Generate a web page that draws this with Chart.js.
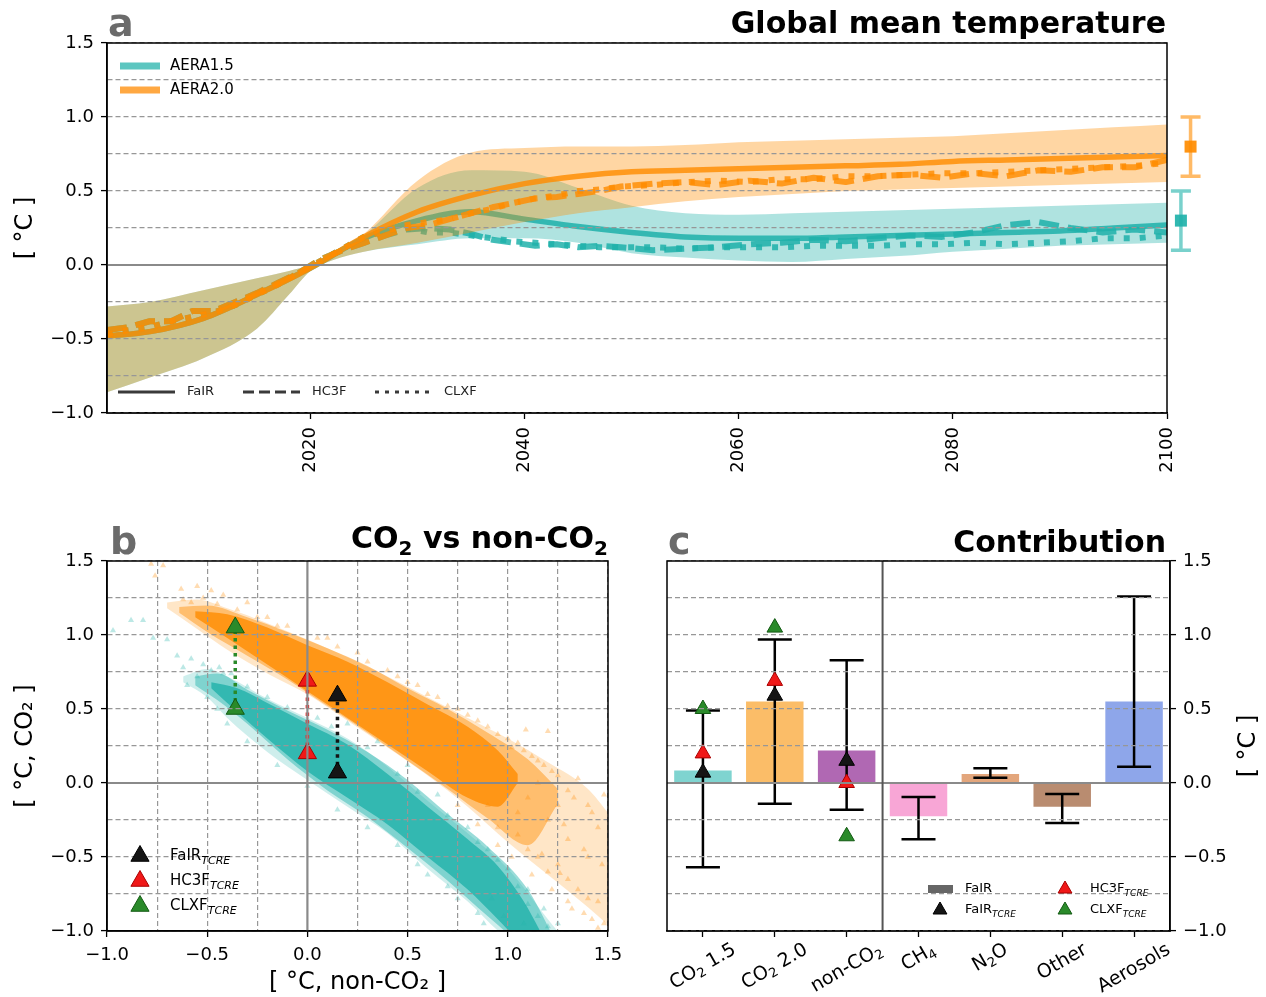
<!DOCTYPE html>
<html>
<head>
<meta charset="utf-8">
<script src="https://cdn.jsdelivr.net/npm/chart.js@4.4.1/dist/chart.umd.min.js"></script>
<style>
  html, body { margin:0; padding:0; background:#ffffff; }
  #page { position:relative; width:1266px; height:997px; overflow:hidden; background:#fff; }
  canvas { position:absolute; display:block; }
</style>
</head>
<body>
<div id="page">
  <canvas id="chartA" width="1266" height="500" style="left:0;top:0;width:1266px;height:500px"></canvas>
  <canvas id="chartB" width="640" height="492" style="left:0;top:505px;width:640px;height:492px"></canvas>
  <canvas id="chartC" width="626" height="492" style="left:640px;top:505px;width:626px;height:492px"></canvas>
</div>
<script>
// ======================= DATA =======================
// ---- Panel a : global mean temperature ----
const seriesNames = ['AERA1.5', 'AERA2.0'];
const modelNames = ['FaIR', 'HC3F', 'CLXF'];
const xTicksA = [2020, 2040, 2060, 2080, 2100];

const yearsBand    = [2001,2005,2010,2015,2018,2020,2022,2025,2030,2035,2040,2045,2050,2055,2060,2065,2070,2075,2080,2085,2090,2095,2100];
const tealBandLo   = [-0.86,-0.76,-0.63,-0.43,-0.20,-0.04,0.03,0.09,0.14,0.18,0.18,0.15,0.08,0.05,0.03,0.02,0.04,0.06,0.09,0.11,0.13,0.14,0.15];
const tealBandHi   = [-0.28,-0.25,-0.17,-0.09,-0.04,0.00,0.06,0.20,0.52,0.64,0.63,0.52,0.40,0.35,0.34,0.35,0.36,0.37,0.38,0.39,0.40,0.41,0.42];
const orangeBandLo = [-0.86,-0.76,-0.63,-0.43,-0.20,-0.04,0.03,0.09,0.15,0.22,0.29,0.35,0.39,0.43,0.46,0.48,0.50,0.51,0.52,0.53,0.54,0.55,0.56];
const orangeBandHi = [-0.28,-0.25,-0.17,-0.09,-0.04,0.00,0.06,0.21,0.57,0.76,0.79,0.80,0.80,0.81,0.83,0.84,0.85,0.86,0.87,0.89,0.91,0.93,0.95];

const yearsSolid = [2001,2005,2010,2015,2020,2025,2030,2035,2040,2045,2050,2055,2060,2065,2070,2075,2080,2085,2090,2095,2100];
const tealFaIR   = [-0.48,-0.45,-0.36,-0.20,-0.02,0.18,0.30,0.36,0.31,0.26,0.22,0.19,0.18,0.18,0.19,0.20,0.21,0.22,0.23,0.25,0.27];
const orangeFaIR = [-0.48,-0.45,-0.36,-0.20,-0.02,0.19,0.36,0.47,0.55,0.60,0.63,0.64,0.65,0.66,0.67,0.68,0.70,0.71,0.72,0.73,0.74];

const yearsNoisy = [2001,2003,2005,2007,2009,2011,2013,2015,2017,2019,2021,2023,2025,2027,2029,2031,2033,2035,2037,2039,2041,2043,2045,2047,2049,2052,2055,2058,2061,2064,2067,2070,2073,2076,2079,2082,2085,2088,2091,2094,2097,2100];
const tealHC3F   = [-0.44,-0.42,-0.38,-0.38,-0.31,-0.31,-0.25,-0.19,-0.12,-0.05,0.04,0.10,0.15,0.20,0.24,0.25,0.24,0.21,0.17,0.15,0.13,0.14,0.12,0.13,0.12,0.10,0.11,0.12,0.14,0.15,0.17,0.16,0.18,0.20,0.19,0.22,0.27,0.29,0.25,0.22,0.24,0.22];
const tealCLXF   = [-0.47,-0.44,-0.42,-0.38,-0.35,-0.32,-0.27,-0.20,-0.13,-0.05,0.03,0.11,0.19,0.23,0.25,0.22,0.22,0.20,0.18,0.16,0.15,0.14,0.13,0.12,0.12,0.12,0.11,0.12,0.12,0.12,0.13,0.13,0.13,0.14,0.14,0.15,0.14,0.15,0.16,0.18,0.18,0.20];
const orangeHC3F = [-0.44,-0.42,-0.38,-0.38,-0.31,-0.31,-0.25,-0.19,-0.12,-0.05,0.04,0.10,0.15,0.20,0.25,0.27,0.31,0.35,0.39,0.42,0.45,0.46,0.48,0.50,0.53,0.55,0.56,0.54,0.57,0.55,0.59,0.56,0.60,0.61,0.59,0.62,0.60,0.64,0.63,0.66,0.66,0.71];
const orangeCLXF = [-0.47,-0.44,-0.42,-0.38,-0.35,-0.32,-0.27,-0.20,-0.13,-0.05,0.03,0.11,0.19,0.23,0.27,0.29,0.31,0.35,0.38,0.42,0.45,0.47,0.50,0.51,0.53,0.54,0.56,0.57,0.56,0.58,0.58,0.60,0.60,0.61,0.62,0.62,0.63,0.64,0.65,0.66,0.67,0.69];

// right-hand ranges (AERA1.5, AERA2.0)
const rangeYear = [2101.3, 2102.2];
const rangeMid  = [0.30, 0.80];
const rangeLo   = [0.10, 0.60];
const rangeHi   = [0.50, 1.00];

// ---- Panel b : CO2 vs non-CO2 (cloud envelopes) ----
const orangeOuterX  = [-0.70,-0.55,-0.40,-0.20,0.00,0.20,0.40,0.60,0.80,1.00,1.20,1.40,1.50];
const orangeOuterHi = [1.22,1.24,1.18,1.08,0.97,0.85,0.72,0.58,0.44,0.30,0.14,-0.04,-0.20];
const orangeOuterLo = [1.18,1.04,0.90,0.74,0.60,0.42,0.24,0.05,-0.16,-0.40,-0.62,-0.84,-0.96];
const orangeMidX    = [-0.64,-0.50,-0.30,-0.10,0.10,0.30,0.50,0.70,0.90,1.10,1.25];
const orangeMidHi   = [1.19,1.20,1.12,1.02,0.91,0.79,0.64,0.50,0.34,0.16,-0.04];
const orangeMidLo   = [1.15,1.02,0.86,0.70,0.52,0.34,0.15,-0.04,-0.24,-0.42,-0.14];
const orangeCoreX   = [-0.56,-0.40,-0.20,0.00,0.20,0.40,0.60,0.80,0.95,1.05];
const orangeCoreHi  = [1.16,1.14,1.05,0.93,0.82,0.68,0.53,0.38,0.22,0.06];
const orangeCoreLo  = [1.12,0.98,0.80,0.62,0.44,0.26,0.08,-0.10,-0.16,0.00];
const tealOuterX    = [-0.62,-0.50,-0.40,-0.20,0.00,0.20,0.40,0.60,0.80,1.00,1.20,1.32];
const tealOuterHi   = [0.72,0.77,0.72,0.57,0.44,0.30,0.11,-0.12,-0.34,-0.58,-0.92,-1.12];
const tealOuterLo   = [0.68,0.58,0.44,0.21,0.02,-0.16,-0.34,-0.58,-0.80,-1.05,-1.15,-1.20];
const tealMidX      = [-0.56,-0.45,-0.30,-0.10,0.10,0.30,0.50,0.70,0.90,1.10,1.25];
const tealMidHi     = [0.72,0.74,0.63,0.49,0.36,0.21,0.02,-0.21,-0.43,-0.72,-1.10];
const tealMidLo     = [0.66,0.56,0.40,0.16,-0.05,-0.23,-0.44,-0.66,-0.90,-1.12,-1.20];
const tealCoreX     = [-0.48,-0.35,-0.20,0.00,0.20,0.40,0.60,0.80,0.95,1.08,1.20];
const tealCoreHi    = [0.68,0.64,0.54,0.40,0.26,0.06,-0.16,-0.38,-0.56,-0.80,-1.10];
const tealCoreLo    = [0.64,0.48,0.30,0.08,-0.10,-0.28,-0.50,-0.72,-0.92,-1.10,-1.20];
const orangeSparseX = [-0.78,-0.72,-0.76,-0.63,-0.55,-0.48,-0.42,-0.62,-0.30,-0.20,-0.10,0.10,0.25,0.45,0.55,0.65,0.75,0.85,0.95,1.05,1.12,1.20,1.22,1.30,1.35,1.40,1.45,1.48,1.10,1.15,1.20,1.25,1.30,1.35,1.40,1.45,1.48,1.42,1.32,1.05,0.95,0.90,1.38,1.47,1.28,1.09,1.15,1.02,1.26,1.17,
  -0.58,-0.52,-0.45,-0.35,-0.25,-0.15,0.05,0.15,0.30,0.40,0.50,0.60,0.70,0.80,0.90,1.00,1.08,1.18,1.25,1.33,1.42,0.95,1.02,1.12,1.22,1.30,1.38,1.45,0.85,0.75,1.00,1.10,1.20,1.30,1.40,1.15,1.05,1.25];
const orangeSparseY = [1.48,1.47,1.40,1.31,1.33,1.30,1.27,1.24,1.22,1.12,1.06,0.98,0.88,0.72,0.66,0.58,0.50,0.42,0.33,0.27,0.18,0.35,0.08,-0.05,0.03,-0.15,-0.30,-0.08,-0.45,-0.50,-0.60,-0.55,-0.65,-0.72,-0.78,-0.80,-0.95,-0.92,-0.85,-0.35,-0.30,-0.15,-0.45,-0.55,-0.28,0.36,0.15,0.24,-0.61,-0.48,
  1.22,1.25,1.21,1.17,1.12,1.06,0.98,0.92,0.82,0.76,0.68,0.60,0.52,0.46,0.38,0.30,0.22,0.12,0.05,-0.10,-0.20,-0.42,-0.50,-0.62,-0.72,-0.80,-0.88,-0.98,-0.28,-0.15,0.00,-0.10,-0.25,-0.38,-0.50,0.00,-0.20,-0.15];
const tealSparseX   = [-0.97,-0.88,-0.82,-0.77,-0.70,-0.65,-0.62,-0.58,-0.52,-0.44,-0.38,-0.60,-0.50,-0.45,0.20,0.35,0.50,0.65,0.80,0.90,1.00,1.05,1.10,1.15,1.20,1.25,1.08,0.98,0.92,0.85,0.70,0.60,
  -0.55,-0.48,-0.42,-0.30,-0.20,-0.10,0.05,0.12,0.30,0.45,0.55,0.70,0.85,0.95,1.10,1.18,-0.40,-0.30,-0.15,0.00,0.15,0.30,0.45,0.55,0.75,0.88];
const tealSparseY   = [1.03,1.10,1.10,0.98,0.97,0.86,0.78,0.84,0.80,0.78,0.74,0.66,0.58,0.50,0.40,0.28,0.12,-0.08,-0.30,-0.45,-0.58,-0.70,-0.82,-0.90,-0.97,-0.95,-0.95,-0.90,-0.78,-0.88,-0.70,-0.62,
  0.72,0.76,0.74,0.65,0.58,0.51,0.44,0.38,0.24,0.06,-0.06,-0.22,-0.40,-0.52,-0.72,-0.85,0.40,0.28,0.12,-0.02,-0.18,-0.30,-0.42,-0.55,-0.78,-0.95];
// TCRE-based estimates: [FaIR, HC3F, CLXF]
const tcreNonCO2 = [0.15, 0.00, -0.36];
const tcreCO2_15 = [0.07, 0.20, 0.50];
const tcreCO2_20 = [0.59, 0.69, 1.05];

// ---- Panel c : contribution ----
const contribLabels = ['CO\u2082 1.5', 'CO\u2082 2.0', 'non-CO\u2082', 'CH\u2084', 'N\u2082O', 'Other', 'Aerosols'];
const contribFaIR   = [0.085, 0.55, 0.22, -0.225, 0.06, -0.16, 0.55];
const contribLo     = [-0.57, -0.14, -0.18, -0.38, 0.035, -0.27, 0.11];
const contribHi     = [0.49, 0.97, 0.83, -0.095, 0.10, -0.074, 1.26];
const contribSplitAfter = 2; // vertical separator between non-CO2 and CH4

// ======================= HELPERS =======================
Chart.defaults.font.family = "'DejaVu Sans', sans-serif";
Chart.defaults.font.size = 18;
Chart.defaults.color = '#000';
const FF = "'DejaVu Sans', sans-serif";
const font = (size, weight, style) => `${style || 'normal'} ${weight || 'normal'} ${size}px ${FF}`;
const MINUS = '\u2212';
const isZero = v => Math.abs(v) < 1e-9;
const isHalf = v => Math.abs(v * 2 - Math.round(v * 2)) < 1e-6;
const fmt = v => (v < -1e-9 ? MINUS : '') + Math.abs(v).toFixed(1);
const halfLabel = v => isHalf(v) ? fmt(v) : '';
const pts = (xs, ys) => xs.map((x, i) => ({x: x, y: ys[i]}));
const TEAL = '32,178,170', ORNG = '255,140,0';
const rgba = (c, a) => `rgba(${c},${a})`;
const SUBS = '\u2080\u2081\u2082\u2083\u2084\u2085\u2086\u2087\u2088\u2089';

function gridCfg() {
  return {
    z: 1,
    color: c => (c.type === 'tick' && isZero(c.tick.value)) ? 'rgba(0,0,0,0)' : '#979797',
    lineWidth: 1.2,
    drawTicks: true, tickLength: 6, tickWidth: 1.3,
    tickColor: c => (c.type === 'tick' && isHalf(c.tick.value)) ? '#000' : 'rgba(0,0,0,0)'
  };
}
const borderCfg = () => ({ z: 2, color: '#000', width: 1.5, dash: [5, 3] });

function drawRich(ctx, parts, x, y, align) {
  let w = 0;
  parts.forEach(p => { ctx.font = p.f; w += ctx.measureText(p.t).width; });
  let cx = align === 'right' ? x - w : (align === 'center' ? x - w / 2 : x);
  ctx.textAlign = 'left';
  parts.forEach(p => { ctx.font = p.f; ctx.fillText(p.t, cx, y + (p.dy || 0)); cx += ctx.measureText(p.t).width; });
  return w;
}
function richWidth(ctx, parts) { let w = 0; parts.forEach(p => { ctx.font = p.f; w += ctx.measureText(p.t).width; }); return w; }
function subParts(label, size) {
  const out = [];
  for (const ch of label) {
    const k = SUBS.indexOf(ch);
    const sub = k >= 0;
    const t = sub ? String(k) : ch;
    const last = out[out.length - 1];
    if (last && last.sub === sub) last.t += t;
    else out.push({t: t, sub: sub, f: sub ? font(Math.round(size * 0.7)) : font(size), dy: sub ? size * 0.28 : 0});
  }
  return out;
}
function tcreParts(name, size) {
  return [{t: name, f: font(size)}, {t: 'TCRE', f: font(Math.round(size * 0.72), 'normal', 'italic'), dy: size * 0.32}];
}
function triangle(ctx, x, y, r, fill, stroke) {
  ctx.beginPath();
  ctx.moveTo(x, y - r);
  ctx.lineTo(x + r * 0.866, y + r * 0.5);
  ctx.lineTo(x - r * 0.866, y + r * 0.5);
  ctx.closePath();
  ctx.fillStyle = fill; ctx.fill();
  if (stroke) { ctx.strokeStyle = stroke; ctx.lineWidth = 1; ctx.stroke(); }
}
function drawFrame(chart) {
  const {ctx, chartArea: a} = chart;
  ctx.save(); ctx.strokeStyle = '#000'; ctx.lineWidth = 1.5; ctx.setLineDash([]);
  ctx.strokeRect(a.left, a.top, a.right - a.left, a.bottom - a.top);
  ctx.restore();
}
function drawZero(chart, vertical) {
  const {ctx, chartArea: a, scales} = chart;
  ctx.save(); ctx.strokeStyle = '#8a8a8a'; ctx.lineWidth = 2.2; ctx.setLineDash([]);
  const py = scales.y.getPixelForValue(0);
  ctx.beginPath(); ctx.moveTo(a.left, py); ctx.lineTo(a.right, py); ctx.stroke();
  if (vertical) {
    const px = scales.x.getPixelForValue(0);
    ctx.beginPath(); ctx.moveTo(px, a.top); ctx.lineTo(px, a.bottom); ctx.stroke();
  }
  ctx.restore();
}
function drawHeading(chart, letter, titleParts, letterDx, titleDx, baseDy) {
  const {ctx, chartArea: a} = chart;
  ctx.save();
  ctx.textBaseline = 'alphabetic';
  ctx.fillStyle = '#6b6b6b'; ctx.font = font(38, 'bold'); ctx.textAlign = 'left';
  ctx.fillText(letter, a.left + letterDx, a.top - 7);
  ctx.fillStyle = '#000';
  drawRich(ctx, titleParts, a.right + titleDx, a.top - baseDy, 'right');
  ctx.restore();
}
function orderLayers(list) { list.forEach((d, i) => { d.order = list.length - i; }); return list; }

const bandLo = (xs, ys) => ({type: 'line', data: pts(xs, ys), borderColor: 'rgba(0,0,0,0)', borderWidth: 0, pointRadius: 0, fill: false, cubicInterpolationMode: 'monotone'});
const bandHi = (xs, ys, bg) => ({type: 'line', data: pts(xs, ys), borderColor: 'rgba(0,0,0,0)', borderWidth: 0, pointRadius: 0, fill: '-1', backgroundColor: bg, cubicInterpolationMode: 'monotone'});
const lineDs = (xs, ys, color, width, dash, smooth) => ({type: 'line', data: pts(xs, ys), borderColor: color, borderWidth: width, borderDash: dash || [], pointRadius: 0, fill: false, cubicInterpolationMode: smooth ? 'monotone' : 'default', tension: 0, borderCapStyle: 'butt', borderJoinStyle: 'round'});

// ======================= PANEL A =======================
const tealLine = rgba(TEAL, 0.85), orngLine = rgba(ORNG, 0.82);
const dsA = orderLayers([
  bandLo(yearsBand, tealBandLo),
  bandHi(yearsBand, tealBandHi, rgba(TEAL, 0.36)),
  lineDs(yearsSolid, tealFaIR, tealLine, 5.5, [], true),
  lineDs(yearsNoisy, tealHC3F, tealLine, 6, [20, 9]),
  lineDs(yearsNoisy, tealCLXF, tealLine, 6, [6, 10]),
  bandLo(yearsBand, orangeBandLo),
  bandHi(yearsBand, orangeBandHi, rgba(ORNG, 0.36)),
  lineDs(yearsSolid, orangeFaIR, orngLine, 5.5, [], true),
  lineDs(yearsNoisy, orangeHC3F, orngLine, 6, [20, 9]),
  lineDs(yearsNoisy, orangeCLXF, orngLine, 6, [6, 10])
]);

const plugA = {
  id: 'plugA',
  afterDraw(chart) {
    const {ctx, chartArea: a, scales: {x, y}} = chart;
    drawZero(chart, false);
    drawFrame(chart);
    const rc = [TEAL, ORNG];
    ctx.save();
    rangeYear.forEach((yr, i) => {
      const px = x.getPixelForValue(yr);
      const pl = y.getPixelForValue(rangeLo[i]), ph = y.getPixelForValue(rangeHi[i]), pm = y.getPixelForValue(rangeMid[i]);
      ctx.strokeStyle = rgba(rc[i], 0.6); ctx.lineWidth = 3.5;
      ctx.beginPath();
      ctx.moveTo(px, pl); ctx.lineTo(px, ph);
      ctx.moveTo(px - 10, pl); ctx.lineTo(px + 10, pl);
      ctx.moveTo(px - 10, ph); ctx.lineTo(px + 10, ph);
      ctx.stroke();
      ctx.fillStyle = rgba(rc[i], 0.92);
      ctx.fillRect(px - 6, pm - 6, 12, 12);
    });
    const legCol = ['#5cc6c0', '#ffa842'];
    ctx.textBaseline = 'middle'; ctx.textAlign = 'left';
    seriesNames.forEach((n, i) => {
      const yy = a.top + 23 + i * 24;
      ctx.fillStyle = legCol[i]; ctx.fillRect(a.left + 13, yy - 3.5, 40, 7);
      ctx.fillStyle = '#000'; ctx.font = font(15); ctx.fillText(n, a.left + 63, yy);
    });
    const ly = a.bottom - 21;
    const dashes = [[], [11, 5], [4, 6]];
    const segX = [11, 136, 268];
    modelNames.forEach((m, i) => {
      ctx.strokeStyle = '#3a3a3a'; ctx.lineWidth = 3; ctx.setLineDash(dashes[i]);
      ctx.beginPath(); ctx.moveTo(a.left + segX[i], ly); ctx.lineTo(a.left + segX[i] + 57, ly); ctx.stroke();
      ctx.setLineDash([]);
      ctx.fillStyle = '#222'; ctx.font = font(13); ctx.fillText(m, a.left + segX[i] + 69, ly);
    });
    ctx.restore();
    drawHeading(chart, 'a', [{t: 'Global mean temperature', f: font(30, 'bold')}], 1, -1, 10);
  }
};

new Chart(document.getElementById('chartA'), {
  type: 'line',
  data: { datasets: dsA },
  options: {
    responsive: false, animation: false,
    layout: { padding: { left: 0, top: 43, right: 99, bottom: 17 } },
    plugins: { legend: { display: false }, tooltip: { enabled: false } },
    scales: {
      x: {
        type: 'linear', min: 2001, max: 2100,
        afterBuildTicks: s => { s.ticks = xTicksA.map(v => ({value: v})); },
        afterFit: s => { s.height = 70; },
        ticks: { autoSkip: false, minRotation: 90, maxRotation: 90, font: {size: 18}, color: '#000', padding: 8, callback: v => String(v) },
        grid: { drawOnChartArea: false, drawTicks: true, tickLength: 6, tickWidth: 1.3, tickColor: '#000' },
        border: { color: '#000', width: 1.5 }
      },
      y: {
        type: 'linear', min: -1, max: 1.5,
        afterFit: s => { s.width = 107; },
        ticks: { stepSize: 0.25, autoSkip: false, font: {size: 18}, color: '#000', padding: 7, callback: halfLabel },
        grid: gridCfg(), border: borderCfg(),
        title: { display: true, text: '[ \u00B0C ]', font: {size: 24}, color: '#000', padding: {top: 11, bottom: 0} }
      }
    }
  },
  plugins: [plugA]
});

// ======================= PANEL B =======================
const sparse = (xs, ys, c) => ({type: 'line', data: pts(xs, ys), showLine: false, pointStyle: 'triangle', pointRadius: 3.5, pointBorderWidth: 0, pointBackgroundColor: rgba(c, 0.3), borderColor: 'rgba(0,0,0,0)'});
const tcreColors = ['#151515', '#f01818', '#2a8a2a'];
const tcreEdge = ['#000', '#a00', '#135a13'];
const connectors = modelNames.map((m, i) => ({type: 'line', data: pts([tcreNonCO2[i], tcreNonCO2[i]], [tcreCO2_15[i], tcreCO2_20[i]]), borderColor: tcreColors[i], borderWidth: 3.5, borderDash: [3.5, 4], pointRadius: 0, fill: false}));
const tcreMarks = modelNames.map((m, i) => ({type: 'line', data: pts([tcreNonCO2[i], tcreNonCO2[i]], [tcreCO2_15[i], tcreCO2_20[i]]), showLine: false, pointStyle: 'triangle', pointRadius: 10.5, pointBackgroundColor: tcreColors[i], pointBorderColor: tcreEdge[i], pointBorderWidth: 1}));

const dsB = orderLayers([
  bandLo(orangeOuterX, orangeOuterLo),
  bandHi(orangeOuterX, orangeOuterHi, rgba(ORNG, 0.22)),
  bandLo(orangeMidX, orangeMidLo),
  bandHi(orangeMidX, orangeMidHi, rgba(ORNG, 0.45)),
  bandLo(orangeCoreX, orangeCoreLo),
  bandHi(orangeCoreX, orangeCoreHi, rgba(ORNG, 0.8)),
  sparse(orangeSparseX, orangeSparseY, ORNG),
  bandLo(tealOuterX, tealOuterLo),
  bandHi(tealOuterX, tealOuterHi, rgba(TEAL, 0.22)),
  bandLo(tealMidX, tealMidLo),
  bandHi(tealMidX, tealMidHi, rgba(TEAL, 0.45)),
  bandLo(tealCoreX, tealCoreLo),
  bandHi(tealCoreX, tealCoreHi, rgba(TEAL, 0.8)),
  sparse(tealSparseX, tealSparseY, TEAL),
  ...connectors,
  ...tcreMarks
]);

const plugB = {
  id: 'plugB',
  afterDraw(chart) {
    const {ctx, chartArea: a} = chart;
    drawZero(chart, true);
    drawFrame(chart);
    ctx.save();
    ctx.textBaseline = 'middle';
    modelNames.forEach((m, i) => {
      const yy = a.bottom - 75 + i * 25;
      triangle(ctx, a.left + 33, yy, 10.5, tcreColors[i], tcreEdge[i]);
      ctx.fillStyle = '#000';
      drawRich(ctx, tcreParts(m, 15), a.left + 63, yy, 'left');
    });
    ctx.restore();
    drawHeading(chart, 'b', [
      {t: 'CO', f: font(30, 'bold')}, {t: '2', f: font(20, 'bold'), dy: 7},
      {t: ' vs non-CO', f: font(30, 'bold')}, {t: '2', f: font(20, 'bold'), dy: 7}
    ], 3, 0, 13);
  }
};

new Chart(document.getElementById('chartB'), {
  type: 'line',
  data: { datasets: dsB },
  options: {
    responsive: false, animation: false,
    layout: { padding: { left: 0, top: 56, right: 32, bottom: 0 } },
    plugins: { legend: { display: false }, tooltip: { enabled: false } },
    scales: {
      x: {
        type: 'linear', min: -1, max: 1.5,
        afterFit: s => { s.height = 66; },
        ticks: { stepSize: 0.25, autoSkip: false, minRotation: 0, maxRotation: 0, font: {size: 18}, color: '#000', padding: 8, callback: halfLabel },
        grid: gridCfg(), border: borderCfg(),
        title: { display: true, text: '[ \u00B0C, non-CO\u2082 ]', font: {size: 24}, color: '#000', padding: {top: 0, bottom: 0} }
      },
      y: {
        type: 'linear', min: -1, max: 1.5,
        afterFit: s => { s.width = 107; },
        ticks: { stepSize: 0.25, autoSkip: false, font: {size: 18}, color: '#000', padding: 7, callback: halfLabel },
        grid: gridCfg(), border: borderCfg(),
        title: { display: true, text: '[ \u00B0C, CO\u2082 ]', font: {size: 24}, color: '#000', padding: {top: 11, bottom: 0} }
      }
    }
  },
  plugins: [plugB]
});

// ======================= PANEL C =======================
const barColors = ['#7fd4d0', '#fbbd68', '#b068b3', '#f8a6d6', '#e3a67c', '#b98c70', '#8ea6ea'];
const tcreCat = i => [tcreCO2_15[i], tcreCO2_20[i], tcreNonCO2[i], null, null, null, null];
const dsC = orderLayers([
  {type: 'bar', data: contribFaIR, backgroundColor: barColors, borderWidth: 0, barPercentage: 0.8, categoryPercentage: 1.0},
  ...modelNames.map((m, i) => ({type: 'line', data: tcreCat(i), showLine: false, pointStyle: 'triangle', pointRadius: 9, pointBackgroundColor: tcreColors[i], pointBorderColor: tcreEdge[i], pointBorderWidth: 1}))
]);

const plugC = {
  id: 'plugC',
  afterDatasetDraw(chart, args) {
    if (args.index !== 0) return;
    const {ctx, scales: {x, y}} = chart;
    ctx.save(); ctx.strokeStyle = '#000'; ctx.lineWidth = 2.5;
    contribLo.forEach((lo, i) => {
      const px = x.getPixelForValue(i), p1 = y.getPixelForValue(lo), p2 = y.getPixelForValue(contribHi[i]);
      ctx.beginPath();
      ctx.moveTo(px, p1); ctx.lineTo(px, p2);
      ctx.moveTo(px - 17, p1); ctx.lineTo(px + 17, p1);
      ctx.moveTo(px - 17, p2); ctx.lineTo(px + 17, p2);
      ctx.stroke();
    });
    ctx.restore();
  },
  afterDraw(chart) {
    const {ctx, chartArea: a, scales: {x, y}} = chart;
    drawZero(chart, false);
    const sx = (x.getPixelForValue(contribSplitAfter) + x.getPixelForValue(contribSplitAfter + 1)) / 2;
    ctx.save();
    ctx.strokeStyle = '#555'; ctx.lineWidth = 2;
    ctx.beginPath(); ctx.moveTo(sx, a.top); ctx.lineTo(sx, a.bottom); ctx.stroke();
    ctx.restore();
    drawFrame(chart);
    ctx.save();
    ctx.fillStyle = '#000'; ctx.textBaseline = 'middle';
    contribLabels.forEach((lab, i) => {
      const px = x.getPixelForValue(i);
      const parts = subParts(lab, 19);
      const w = richWidth(ctx, parts);
      const cy = a.bottom + 9 + (w * 0.5 + 17) / 2;
      ctx.save(); ctx.translate(px, cy); ctx.rotate(-Math.PI / 6); drawRich(ctx, parts, 0, 0, 'center'); ctx.restore();
    });
    ctx.save(); ctx.translate(a.right + 79, (a.top + a.bottom) / 2); ctx.rotate(-Math.PI / 2);
    ctx.textAlign = 'center'; ctx.font = font(24); ctx.fillText('[ \u00B0C ]', 0, 0); ctx.restore();
    ctx.textBaseline = 'middle';
    const r1 = a.bottom - 42, r2 = a.bottom - 21;
    ctx.fillStyle = '#666'; ctx.fillRect(a.left + 261, r1 - 4, 25, 8);
    ctx.fillStyle = '#000'; ctx.font = font(13); ctx.textAlign = 'left'; ctx.fillText(modelNames[0], a.left + 298, r1);
    triangle(ctx, a.left + 273, r2, 8, tcreColors[0], tcreEdge[0]);
    ctx.fillStyle = '#000'; drawRich(ctx, tcreParts(modelNames[0], 13), a.left + 298, r2, 'left');
    triangle(ctx, a.left + 398, r1, 8, tcreColors[1], tcreEdge[1]);
    ctx.fillStyle = '#000'; drawRich(ctx, tcreParts(modelNames[1], 13), a.left + 423, r1, 'left');
    triangle(ctx, a.left + 398, r2, 8, tcreColors[2], tcreEdge[2]);
    ctx.fillStyle = '#000'; drawRich(ctx, tcreParts(modelNames[2], 13), a.left + 423, r2, 'left');
    ctx.restore();
    drawHeading(chart, 'c', [{t: 'Contribution', f: font(30, 'bold')}], 1, -4, 9);
  }
};

new Chart(document.getElementById('chartC'), {
  type: 'bar',
  data: { labels: contribLabels, datasets: dsC },
  options: {
    responsive: false, animation: false,
    layout: { padding: { left: 27, top: 56, right: 0, bottom: 0 } },
    plugins: { legend: { display: false }, tooltip: { enabled: false } },
    scales: {
      x: {
        type: 'category', offset: true,
        afterFit: s => { s.height = 66; },
        ticks: { display: false },
        grid: { offset: false, drawOnChartArea: false, drawTicks: true, tickLength: 6, tickWidth: 1.3, tickColor: '#000' },
        border: { color: '#000', width: 1.5 }
      },
      y: {
        type: 'linear', position: 'right', min: -1, max: 1.5,
        afterFit: s => { s.width = 96; },
        ticks: { stepSize: 0.25, autoSkip: false, font: {size: 18}, color: '#000', padding: 7, callback: halfLabel },
        grid: gridCfg(), border: borderCfg()
      }
    }
  },
  plugins: [plugC]
});
</script>
</body>
</html>
